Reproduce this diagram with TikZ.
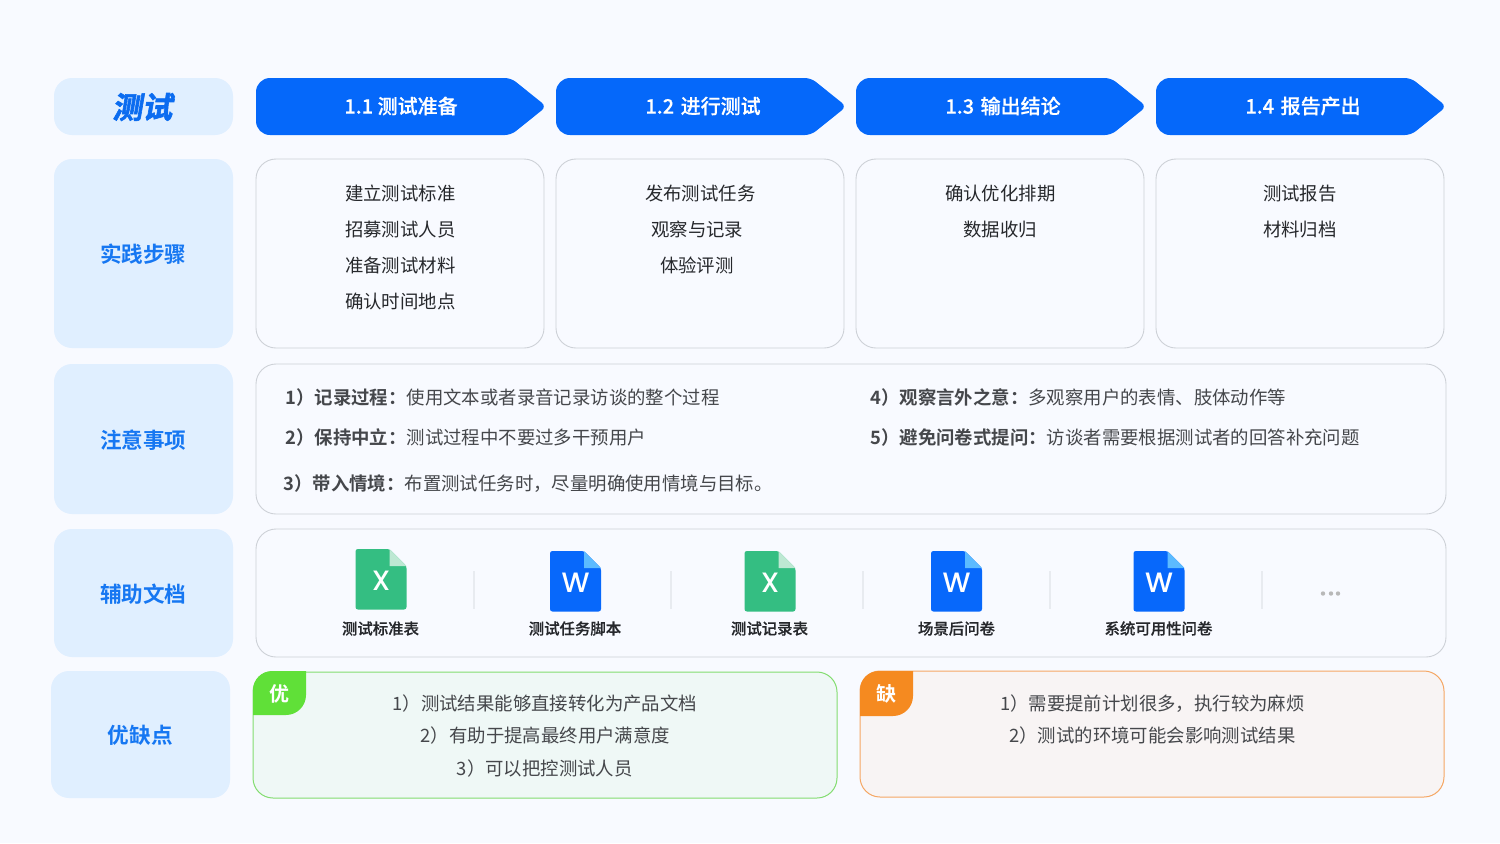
\documentclass[tikz,border=0pt]{standalone}
\usepackage{fontspec}
\setmainfont[BoldFont={Noto Sans CJK SC Bold}]{Noto Sans CJK SC}
\newfontfamily\strongfont{Noto Sans CJK SC Bold}
\newfontfamily\mediumfont[FakeBold=0.4]{Noto Sans CJK SC Medium}
\newfontfamily\slantfont[FakeSlant=0.17,FakeBold=2]{Noto Sans CJK SC Bold}
\newfontfamily\latinfont{Poppins Medium}
\definecolor{bgc}{HTML}{F8FAFF}
\definecolor{blueA}{HTML}{0568FA}
\definecolor{labelfill}{HTML}{E0EFFF}
\definecolor{labeltext}{HTML}{1677F2}
\definecolor{titletext}{HTML}{0B6CF0}
\definecolor{cardline}{HTML}{CDD1D7}
\definecolor{bodytext}{HTML}{26282C}
\definecolor{softtext}{HTML}{45474B}
\definecolor{sep}{HTML}{E8EBF0}
\definecolor{greenline}{HTML}{83DD70}
\definecolor{greenfill}{HTML}{EFF8F6}
\definecolor{greenbadge}{HTML}{60E038}
\definecolor{orangeline}{HTML}{F5A764}
\definecolor{orangefill}{HTML}{F8F4F4}
\definecolor{orangebadge}{HTML}{F58A20}
\definecolor{xlbody}{HTML}{34BE82}
\definecolor{xlfold}{HTML}{BDE8D3}
\definecolor{wdbody}{HTML}{0768FB}
\definecolor{wdfold}{HTML}{5CBBFF}
\tikzset{
  x=0.5pt,y=-0.5pt,
  sized/.style 2 args={minimum width=#1*0.5pt,minimum height=#2*0.5pt,inner sep=0pt,outer sep=0pt,anchor=north west,align=center},
  labelbox/.style={fill=labelfill,rounded corners=9pt},
  labeltxt/.style={inner sep=0pt,text=labeltext,font=\fontsize{10.8}{13}\selectfont\strongfont},
  card/.style={draw=cardline,line width=0.45pt,rounded corners=10pt},
  stepline/.style={font=\fontsize{9.2}{11}\selectfont,text=bodytext,inner sep=0pt},
  noteline/.style={font=\fontsize{9.2}{11}\selectfont,text=softtext,inner sep=0pt,anchor=west},
  headtext/.style={font=\fontsize{10}{12}\selectfont\mediumfont,text=white,inner sep=0pt},
  doclabel/.style={font=\fontsize{7.7}{9}\selectfont\mediumfont,text=bodytext,inner sep=0pt},
  goodbox/.style={draw=greenline,fill=greenfill,line width=0.5pt,rounded corners=10pt},
  badbox/.style={draw=orangeline,fill=orangefill,line width=0.5pt,rounded corners=10pt},
  evaltext/.style={font=\fontsize{9.2}{11}\selectfont,text=softtext,inner sep=0pt},
  badgetext/.style={font=\fontsize{10}{12}\selectfont\strongfont,text=white,inner sep=0pt},
  sepline/.style={draw=sep,line width=0.6pt},
}
\newcommand{\headarrow}[4]{% name, left x, text, text offset
  \fill[blueA] (#2,106) [rounded corners=7pt] -- (#2,78) [rounded corners=3pt] -- ({#2+255},78) -- ({#2+290.5},106.5) -- ({#2+255},135) [rounded corners=7pt] -- (#2,135) [sharp corners] -- cycle;
  \node[headtext] (#1) at ({#2+#4},106) {#3};
}
\newcommand{\docicon}[7]{% name, x, y, body, fold, letter, letter-y
  \fill[#4,rounded corners=1.2pt] (#2,#3) -- ({#2+34},#3) -- ({#2+51},{#3+17}) -- ({#2+51},{#3+60.5}) -- (#2,{#3+60.5}) -- cycle;
  \fill[#5] ({#2+34},#3) -- ({#2+51},{#3+17}) -- ({#2+34},{#3+17}) -- cycle;
  \node[inner sep=0pt,text=white,font=\latinfont\fontsize{14}{14}\selectfont] (#1) at ({#2+25.5},#7) {#6};
}
\begin{document}
\begin{tikzpicture}
\useasboundingbox (0,0) rectangle (1500,843);
\fill[bgc] (0,0) rectangle (1500,843);

% left column
\node[sized={179}{57},labelbox] (lab0) at (54,78) {};
\node[sized={179}{189},labelbox] (lab1) at (54,159) {};
\node[sized={179}{150},labelbox] (lab2) at (54,364) {};
\node[sized={179}{128},labelbox] (lab3) at (54,529) {};
\node[sized={179}{127},labelbox] (lab4) at (51,671) {};
\node[inner sep=0pt,text=titletext,font=\slantfont\fontsize{15}{16}\selectfont] (lab0t) at (142.3,107) {测试};
\node[labeltxt] (lab1t) at (143.3,254.2) {实践步骤};
\node[labeltxt] (lab2t) at (143.3,440) {注意事项};
\node[labeltxt] (lab3t) at (143.3,594.2) {辅助文档};
\node[labeltxt] (lab4t) at (140.3,735) {优缺点};

% header arrows
\headarrow{h1}{256}{1.1 测试准备}{145}
\headarrow{h2}{556}{1.2\hspace{1pt} 进行测试}{147}
\headarrow{h3}{856}{1.3\hspace{1pt} 输出结论}{147}
\headarrow{h4}{1156}{1.4\hspace{1pt} 报告产出}{147}

% step cards
\node[sized={288}{189},card] (c1) at (256,159) {};
\node[sized={288}{189},card] (c2) at (556,159) {};
\node[sized={288}{189},card] (c3) at (856,159) {};
\node[sized={288}{189},card] (c4) at (1156,159) {};

\node[stepline] (s11) at (400.3,193.4) {建立测试标准};
\node[stepline] (s12) at (400.3,229.4) {招募测试人员};
\node[stepline] (s13) at (400.3,265.4) {准备测试材料};
\node[stepline] (s14) at (400.3,301.4) {确认时间地点};
\node[stepline] (s21) at (700.3,193.4) {发布测试任务};
\node[stepline] (s22) at (697.3,229.4) {观察与记录};
\node[stepline] (s23) at (696.8,265.4) {体验评测};
\node[stepline] (s31) at (1000.3,193.4) {确认优化排期};
\node[stepline] (s32) at (1000.3,229.4) {数据收归};
\node[stepline] (s41) at (1299.8,193.4) {测试报告};
\node[stepline] (s42) at (1299.8,229.4) {材料归档};

% notes
\node[sized={1190}{150},card] (notes) at (256,364) {};
\node[noteline] (n1) at (285,397) {\textbf{1）记录过程：}使用文本或者录音记录访谈的整个过程};
\node[noteline] (n2) at (285,437.4) {\textbf{2）保持中立：}测试过程中不要过多干预用户};
\node[noteline] (n3) at (283,483.5) {\textbf{3）带入情境：}布置测试任务时，尽量明确使用情境与目标。};
\node[noteline] (n4) at (870,397) {\textbf{4）观察言外之意：}多观察用户的表情、肢体动作等};
\node[noteline] (n5) at (870,437.4) {\textbf{5）避免问卷式提问：}访谈者需要根据测试者的回答补充问题};

% documents
\node[sized={1190}{128},card] (docs) at (256,529) {};
\docicon{i1}{355.5}{549}{xlbody}{xlfold}{X}{581}
\docicon{i2}{550}{551}{wdbody}{wdfold}{W}{583}
\docicon{i3}{744.5}{551}{xlbody}{xlfold}{X}{583}
\docicon{i4}{931}{551}{wdbody}{wdfold}{W}{583}
\docicon{i5}{1133.5}{551}{wdbody}{wdfold}{W}{583}
\node[doclabel] (d1) at (380.5,628.5) {测试标准表};
\node[doclabel] (d2) at (575,628.5) {测试任务脚本};
\node[doclabel] (d3) at (769.5,628.5) {测试记录表};
\node[doclabel] (d4) at (956.5,628.5) {场景后问卷};
\node[doclabel] (d5) at (1158.5,628.5) {系统可用性问卷};
\foreach \sx in {474,671,863,1050,1262} \draw[sepline] (\sx,571) -- (\sx,609);
\foreach \dx in {1323,1331,1338} \fill[black!28] (\dx,593.5) circle (1.1pt);

% pros
\node[sized={584}{126},goodbox] (good) at (253,672) {};
\fill[greenbadge] (253,715) [rounded corners=9.5pt] -- (253,671) [sharp corners] -- (306,671) [rounded corners=10pt] -- (306,715) [sharp corners] -- cycle;
\node[badgetext] (bg) at (279.5,694) {优};
\node[evaltext] (g1) at (544.8,703.5) {1）测试结果能够直接转化为产品文档};
\node[evaltext] (g2) at (545.3,735.5) {2）有助于提高最终用户满意度};
\node[evaltext] (g3) at (544.8,768) {3）可以把控测试人员};

% cons
\node[sized={584}{126},badbox] (bad) at (860,671) {};
\fill[orangebadge] (860,716) [rounded corners=9.5pt] -- (860,671) [sharp corners] -- (913,671) [rounded corners=10pt] -- (913,716) [sharp corners] -- cycle;
\node[badgetext] (bb) at (886.5,694) {缺};
\node[evaltext] (b1) at (1152.4,703.5) {1）需要提前计划很多，执行较为麻烦};
\node[evaltext] (b2) at (1152.4,735.5) {2）测试的环境可能会影响测试结果};
\end{tikzpicture}
\end{document}
